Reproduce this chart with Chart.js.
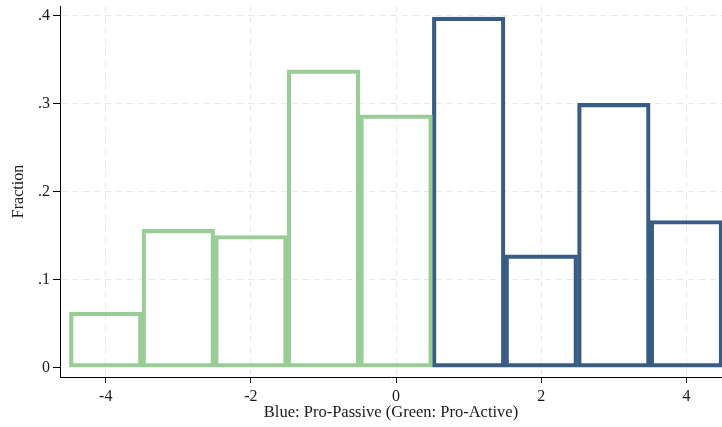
<!DOCTYPE html>
<html>
<head>
<meta charset="utf-8">
<script src="https://cdn.jsdelivr.net/npm/chart.js@4"></script>
<style>
	html, body { margin: 0; padding: 0; background: #ffffff; }
	canvas { display: block; }
</style>
</head>
<body>
<canvas id="Hist" width="722" height="427"></canvas>
<script>
// bins (centres) and fractions
const greenBins = [-4, -3, -2, -1, 0];
const greenFrac = [0.063, 0.157, 0.150, 0.338, 0.287];
const blueBins = [1, 2, 3, 4];
const blueFrac = [0.398, 0.128, 0.300, 0.167];

const xTicks = [-4, -2, 0, 2, 4];
const yTicks = [0, 0.1, 0.2, 0.3, 0.4];
const yTickLabels = ['0', '.1', '.2', '.3', '.4'];

const histCtx = document.getElementById('Hist').getContext('2d');
const textColor = '#1a1a1a';
const gridColor = '#e8e8e8';
const serif = "'Liberation Serif', 'DejaVu Serif', serif";

window.hist = new Chart(histCtx, {
	type: 'bar',
	data: {
		datasets: [{
			label: 'Pro-Active',
			backgroundColor: 'rgba(0,0,0,0)',
			borderColor: '#9acc95',
			borderWidth: 3.5,
			borderSkipped: false,
			barPercentage: 1.0,
			categoryPercentage: 1.0,
			grouped: false,
			data: greenBins.map((b, i) => ({x: b, y: greenFrac[i]}))
		}, {
			label: 'Pro-Passive',
			backgroundColor: 'rgba(0,0,0,0)',
			borderColor: '#385c83',
			borderWidth: 3.5,
			borderSkipped: false,
			barPercentage: 1.0,
			categoryPercentage: 1.0,
			grouped: false,
			data: blueBins.map((b, i) => ({x: b, y: blueFrac[i]}))
		}]
	},
	options: {
		responsive: false,
		animation: false,
		layout: {
			padding: {top: 6, right: 0, bottom: 0, left: 0}
		},
		plugins: {
			legend: {display: false},
			tooltip: {enabled: false}
		},
		scales: {
			x: {
				type: 'linear',
				offset: false,
				min: -4.63,
				max: 4.49,
				afterBuildTicks: (scale) => { scale.ticks = xTicks.map(v => ({value: v})); },
				afterFit: (scale) => { scale.height = 50; scale.paddingLeft = 0; scale.paddingRight = 0; },
				grid: {
					offset: false,
					color: gridColor,
					lineWidth: 1,
					drawTicks: true,
					tickLength: 6,
					tickColor: '#000',
					tickBorderDash: []
				},
				border: {display: true, color: '#000', width: 1, dash: [6, 5]},
				ticks: {
					color: textColor,
					padding: 4,
					maxRotation: 0,
					font: {family: serif, size: 16},
					callback: (v) => String(v)
				},
				title: {
					display: true,
					text: 'Blue: Pro-Passive (Green: Pro-Active)',
					color: textColor,
					font: {family: serif, size: 16.5},
					padding: {top: 0, bottom: 4}
				}
			},
			y: {
				min: -0.0107,
				max: 0.4106,
				afterBuildTicks: (scale) => { scale.ticks = yTicks.map(v => ({value: v})); },
				afterFit: (scale) => { scale.width = 60; scale.paddingTop = 0; scale.paddingBottom = 0; },
				grid: {
					color: (c) => (c.tick && c.tick.value === 0) ? 'rgba(0,0,0,0)' : gridColor,
					lineWidth: 1,
					drawTicks: true,
					tickLength: 7,
					tickColor: '#000',
					tickBorderDash: []
				},
				border: {display: true, color: '#000', width: 1, dash: [6, 5]},
				ticks: {
					color: textColor,
					padding: 3,
					font: {family: serif, size: 16},
					callback: (v) => yTickLabels[yTicks.indexOf(v)]
				},
				title: {
					display: true,
					text: 'Fraction',
					color: textColor,
					font: {family: serif, size: 16},
					padding: {top: 9, bottom: 0}
				}
			}
		}
	}
});
</script>
</body>
</html>
